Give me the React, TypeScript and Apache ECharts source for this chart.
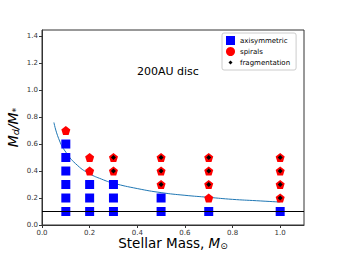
import React, { useEffect, useRef } from "react";
import * as echarts from "echarts";

const axisymmetric: number[][] = [
  [0.1, 0.1], [0.1, 0.2], [0.1, 0.3], [0.1, 0.4], [0.1, 0.5], [0.1, 0.6],
  [0.2, 0.1], [0.2, 0.2], [0.2, 0.3],
  [0.3, 0.1], [0.3, 0.2], [0.3, 0.3],
  [0.5, 0.1], [0.5, 0.2],
  [0.7, 0.1],
  [1.0, 0.1],
];
const spirals: number[][] = [
  [0.1, 0.7],
  [0.2, 0.4], [0.2, 0.5],
  [0.3, 0.4], [0.3, 0.5],
  [0.5, 0.3], [0.5, 0.4], [0.5, 0.5],
  [0.7, 0.2], [0.7, 0.3], [0.7, 0.4], [0.7, 0.5],
  [1.0, 0.2], [1.0, 0.3], [1.0, 0.4], [1.0, 0.5],
];
const fragmentation: number[][] = [
  [0.3, 0.4], [0.3, 0.5],
  [0.5, 0.3], [0.5, 0.4], [0.5, 0.5],
  [0.7, 0.3], [0.7, 0.4], [0.7, 0.5],
  [1.0, 0.2], [1.0, 0.3], [1.0, 0.4], [1.0, 0.5],
];
const curve: number[][] = [
  [0.05, 0.76], [0.07, 0.64], [0.1, 0.54], [0.15, 0.44], [0.2, 0.38],
  [0.25, 0.34], [0.3, 0.31], [0.4, 0.27], [0.5, 0.24], [0.6, 0.22],
  [0.7, 0.205], [0.8, 0.19], [0.9, 0.18], [1.0, 0.17],
];
const threshold = 0.1;
const xTicks = [0, 0.2, 0.4, 0.6, 0.8, 1.0];
const yTicks = [0, 0.2, 0.4, 0.6, 0.8, 1.0, 1.2, 1.4];

const pentagon =
  "path://M0,-1L0.951,-0.309L0.588,0.809L-0.588,0.809L-0.951,-0.309Z";
const FONT = "DejaVu Sans";

export default function App() {
  const ref = useRef<HTMLDivElement>(null);
  useEffect(() => {
    if (!ref.current) return;
    const chart = echarts.init(ref.current, undefined, { renderer: "svg" });
    const tickLabel = {
      fontSize: 7,
      color: "#333",
      fontFamily: FONT,
      formatter: (v: number) => v.toFixed(1),
    };
    chart.setOption({
      animation: false,
      grid: {
        left: 42,
        right: 34,
        top: 30,
        bottom: 28,
        show: true,
        borderColor: "#333",
        borderWidth: 1,
        containLabel: false,
        outerBoundsMode: "none",
      },
      graphic: [
        {
          type: "text",
          left: 137,
          top: 66,
          style: { text: "200AU disc", fontSize: 11, fontFamily: FONT, fill: "#000" },
        },
      ],
      legend: {
        orient: "vertical",
        left: 222,
        top: 33,
        itemWidth: 9,
        itemHeight: 9,
        itemGap: 2,
        padding: [3, 6, 3, 4],
        borderColor: "#ccc",
        borderWidth: 1,
        borderRadius: 2,
        textStyle: { fontSize: 7, fontFamily: FONT, color: "#000" },
        data: [
          { name: "axisymmetric", icon: "rect" },
          { name: "spirals", icon: "circle" },
          {
            name: "fragmentation",
            icon: "path://M-2,-2L-2,-2M2,2L2,2M0,-0.9L0.9,0L0,0.9L-0.9,0Z",
            itemStyle: { color: "#000" },
          },
        ],
      },
      xAxis: {
        type: "value",
        min: 0,
        max: 1.1,
        name: "{i|Stellar Mass, }{m|M}{s|⊙}",
        nameLocation: "middle",
        nameGap: 11,
        nameMoveOverlap: false,
        nameTextStyle: {
          rich: {
            i: { fontSize: 13.5, lineHeight: 14, fontFamily: FONT, color: "#000" },
            m: { fontSize: 13.5, lineHeight: 14, fontFamily: FONT, fontStyle: "italic", color: "#000" },
            s: { fontSize: 9, lineHeight: 9, verticalAlign: "bottom", fontFamily: FONT, color: "#000" },
          },
        },
        splitLine: { show: false },
        axisLine: { show: true, onZero: false, lineStyle: { color: "#333" } },
        axisTick: { show: true, length: 3, customValues: xTicks, lineStyle: { color: "#333" } },
        axisLabel: { ...tickLabel, margin: 4, customValues: xTicks },
      },
      yAxis: {
        type: "value",
        min: 0,
        max: 1.445,
        name: "{m|M}{s|d}{m|/M}{s|*}",
        nameLocation: "middle",
        nameGap: 22,
        nameMoveOverlap: false,
        nameRotate: 90,
        nameTextStyle: {
          rich: {
            m: { fontSize: 14, lineHeight: 15, fontFamily: FONT, fontStyle: "italic", color: "#000" },
            s: { fontSize: 9.5, lineHeight: 10, verticalAlign: "bottom", fontFamily: FONT, fontStyle: "italic", color: "#000" },
          },
        },
        splitLine: { show: false },
        axisLine: { show: true, onZero: false, lineStyle: { color: "#333" } },
        axisTick: { show: true, length: 3, customValues: yTicks, lineStyle: { color: "#333" } },
        axisLabel: { ...tickLabel, margin: 4, customValues: yTicks },
      },
      series: [
        {
          name: "threshold",
          type: "line",
          data: [],
          markLine: {
            silent: true,
            symbol: "none",
            label: { show: false },
            lineStyle: { color: "#000", width: 1, type: "solid" },
            data: [{ yAxis: threshold }],
          },
        },
        {
          name: "curve",
          type: "line",
          data: curve,
          smooth: true,
          showSymbol: false,
          lineStyle: { color: "#1f77b4", width: 1 },
          z: 3,
        },
        {
          name: "axisymmetric",
          type: "scatter",
          data: axisymmetric,
          symbol: "rect",
          symbolSize: 9,
          itemStyle: { color: "#0000ff", opacity: 1 },
          z: 4,
        },
        {
          name: "spirals",
          type: "scatter",
          data: spirals,
          symbol: pentagon,
          symbolSize: 9,
          itemStyle: { color: "#ff0000", opacity: 1 },
          z: 5,
        },
        {
          name: "fragmentation",
          type: "scatter",
          data: fragmentation,
          symbol: "diamond",
          symbolSize: 5,
          itemStyle: { color: "#000", opacity: 1 },
          z: 6,
        },
      ],
    });
    return () => chart.dispose();
  }, []);
  return <div ref={ref} style={{ width: 338, height: 253, position: "absolute", left: 0, top: 0 }} />;
}
